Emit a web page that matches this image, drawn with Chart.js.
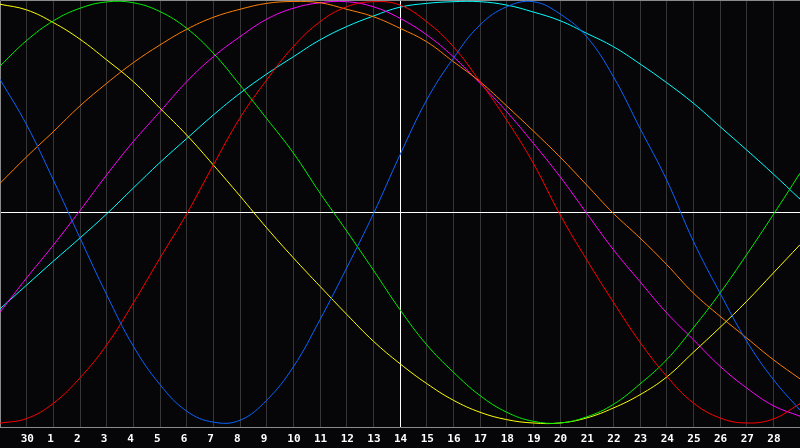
<!DOCTYPE html>
<html><head><meta charset="utf-8">
<script src="https://cdn.jsdelivr.net/npm/chart.js@4"></script>
<style>html,body{margin:0;padding:0;background:#060609;overflow:hidden;}#wrap{width:800px;height:448px;position:relative;}</style>
</head><body><div id="wrap"><canvas id="c"></canvas></div>
<script>
const dayOffsets = [0,1,2,3,4,5,6,7,8,9,10,11,12,13,14,15,16,17,18,19,20,21,22,23,24,25,26,27,28,29,30];
const tickLabels = ['30','1','2','3','4','5','6','7','8','9','10','11','12','13','14','15','16','17','18','19','20','21','22','23','24','25','26','27','28'];
const todayOffset = 15;

const physical     = [63.1,41.5,15.4,-12.1,-39.0,-63.4,-81.6,-94.2,-99.4,-98.5,-89.0,-73.2,-50.8,-26.3,-0.7,27.3,53.3,73.1,88.9,97.5,99.9,94.1,83.3,64.4,39.9,15.4,-13.6,-38.2,-61.0,-79.2,-93.7];
const emotional    = [-99.9,-97.7,-90.5,-78.4,-62.8,-42.9,-21.6,-0.7,22.5,44.8,62.8,78.6,90.4,97.5,99.9,98.3,90.4,78.6,62.0,43.8,23.3,-1.0,-22.4,-42.5,-61.5,-77.6,-90.3,-97.4,-99.8,-97.9,-90.6];
const intellectual = [69.4,81.5,90.8,96.8,99.8,99.4,95.2,87.3,75.5,60.4,44.5,28.2,9.2,-8.8,-27.3,-46.1,-62.7,-75.7,-86.8,-94.7,-99.0,-99.8,-96.9,-91.0,-81.3,-69.8,-54.7,-38.2,-20.0,-1.0,18.6];
const aesthetic    = [98.7,96.0,90.0,82.1,72.3,62.0,49.4,36.7,22.5,7.8,-7.3,-21.5,-35.0,-48.3,-61.0,-71.7,-81.1,-89.0,-94.7,-98.2,-99.8,-99.8,-97.4,-92.7,-86.4,-78.0,-66.3,-54.5,-42.1,-28.7,-15.3];
const awareness    = [13.8,26.4,38.3,50.5,61.2,71.0,79.4,86.8,92.5,96.3,99.1,100,99.4,96.3,92.8,87.3,80.9,71.5,62.0,50.5,38.6,26.3,13.0,-0.4,-12.1,-24.7,-38.2,-49.2,-59.5,-69.8,-78.9];
const intuition    = [-47.3,-31.0,-15.5,0.9,17.8,33.6,47.8,62.0,73.8,83.3,91.6,96.8,99.4,99.9,97.5,92.0,84.2,73.8,61.2,47.8,32.8,17.0,-0.4,-17.6,-32.8,-47.6,-60.3,-72.9,-83.2,-91.6,-96.6];
const spiritual    = [-45.7,-34.4,-23.1,-12.1,-0.7,11.6,23.7,35.0,46.2,56.5,65.6,73.8,81.8,88.1,93.1,97.3,99.1,99.9,99.9,98.3,95.0,90.9,84.9,78.6,70.4,61.5,51.8,40.7,29.6,18.2,6.3];

const toPoints = arr => arr.map((v, i) => ({x: dayOffsets[i], y: v}));
const series = [
  {label:'Physical', data: physical, color:'#0a64ff'},
  {label:'Emotional', data: emotional, color:'#ff0000'},
  {label:'Intellectual', data: intellectual, color:'#00f000'},
  {label:'Aesthetic', data: aesthetic, color:'#ffff00'},
  {label:'Awareness', data: awareness, color:'#ff7f00'},
  {label:'Intuition', data: intuition, color:'#ff00ff'},
  {label:'Spiritual', data: spiritual, color:'#00ffff'}
];

const framePlugin = {
  id: 'frame',
  beforeDraw(chart) {
    const {ctx} = chart;
    ctx.save();
    ctx.fillStyle = '#060609';
    ctx.fillRect(0, 0, chart.width, chart.height);
    ctx.restore();
  },
  beforeDatasetsDraw(chart) {
    const {ctx, chartArea: a} = chart;
    ctx.save();
    ctx.strokeStyle = '#8a8a8a';
    ctx.lineWidth = 1;
    ctx.beginPath();
    ctx.moveTo(a.left + 0.5, a.bottom);
    ctx.lineTo(a.left + 0.5, a.top + 0.5);
    ctx.lineTo(a.right, a.top + 0.5);
    ctx.stroke();
    ctx.restore();
  }
};

new Chart(document.getElementById('c'), {
  type: 'line',
  data: {
    datasets: series.map(s => ({
      label: s.label,
      data: toPoints(s.data),
      borderColor: s.color,
      backgroundColor: s.color,
      borderWidth: 1,
      pointRadius: 0,
      tension: 0.4,
      fill: false
    }))
  },
  options: {
    animation: false,
    responsive: true,
    maintainAspectRatio: false,
    layout: {padding: 0},
    plugins: {legend: {display: false}, tooltip: {enabled: false}},
    scales: {
      x: {
        type: 'linear',
        min: 0,
        max: 30,
        afterBuildTicks: scale => { scale.ticks = tickLabels.map((_, i) => ({value: i + 1})); },
        afterFit: scale => { scale.height = 21; },
        ticks: {
          color: '#ffffff',
          font: {family: 'DejaVu Sans Mono', weight: 'bold', size: 11},
          align: 'start',
          labelOffset: -6,
          padding: 6,
          autoSkip: false,
          maxRotation: 0,
          callback: v => tickLabels[v - 1]
        },
        grid: {
          color: c => (c.tick && c.tick.value === todayOffset) ? '#ffffff' : '#363636',
          drawTicks: false,
          lineWidth: 1
        },
        border: {display: true, color: '#8a8a8a'}
      },
      y: {
        min: -101.7,
        max: 100.7,
        afterBuildTicks: scale => { scale.ticks = [{value: 0}]; },
        ticks: {display: false},
        grid: {color: '#ffffff', drawTicks: false, lineWidth: 1},
        border: {display: false}
      }
    }
  },
  plugins: [framePlugin]
});
</script>
</body></html>
